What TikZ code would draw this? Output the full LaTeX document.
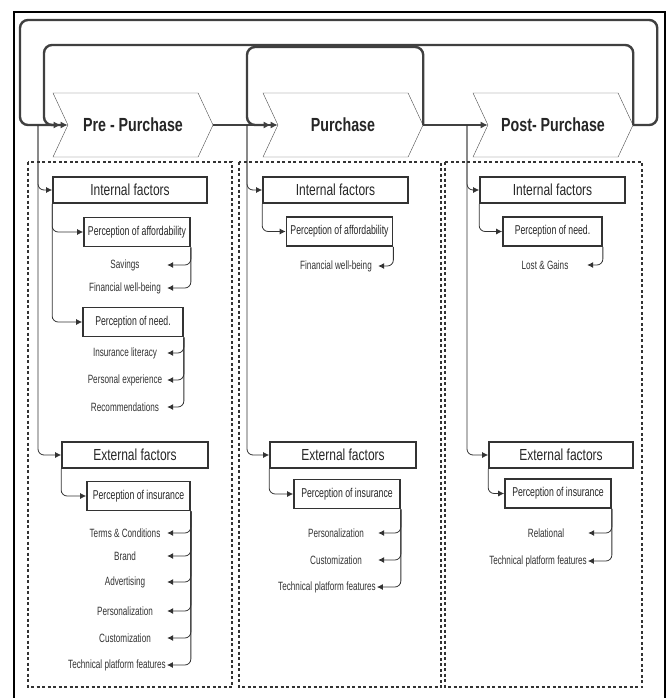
\documentclass[tikz,border=0pt]{standalone}
\usepackage{fontspec}
\setmainfont{Liberation Sans}
\newfontfamily\titlefont[FakeStretch=0.75]{Liberation Sans}
\newfontfamily\narrowfont[FakeStretch=0.68]{Liberation Sans}
\usetikzlibrary{shapes.symbols,arrows.meta}

\begin{document}
\begin{tikzpicture}[x=1pt,y=-1pt]

% whole page, in pixels of the picture
\useasboundingbox (0,0) rectangle (668,698);

% node style definition
\tikzstyle{phase} = [
	draw=black!70, thin, shape=signal, signal to=east, signal from=west,
	signal pointer angle=130, minimum width=160pt, minimum height=64pt,
	font=\titlefont\bfseries\fontsize{19}{22}\selectfont, text=black!85 ];
\tikzstyle{factor} = [
	draw=black!80, line width=1.7pt, rectangle, minimum height=26pt,
	font=\titlefont\fontsize{16}{18}\selectfont, text=black!85 ];
\tikzstyle{percept} = [
	draw=black!80, line width=1.7pt, rectangle, minimum height=29pt, inner sep=1pt,
	font=\narrowfont\fontsize{12.8}{15}\selectfont, text=black!85 ];
\tikzstyle{item} = [
	minimum width=84pt, inner sep=1pt,
	font=\narrowfont\fontsize{12}{14}\selectfont, text=black!80 ];
\tikzstyle{loop} = [
	draw=black!75, line width=2.4pt, rounded corners=8pt,
	-{Latex[length=7pt,width=7pt]} ];
\tikzstyle{feed} = [
	draw=black!80, line width=0.8pt, rounded corners=6pt,
	-{Latex[length=6pt,width=6pt]} ];
\tikzstyle{colbox} = [draw=black!80, line width=1.6pt, dash pattern=on 3pt off 2.5pt];

% frame and the three columns
\draw[line width=1.8pt] (14,698) |- (665,12) -- (665,698);
\draw[colbox] (28,162) rectangle (232,687);
\draw[colbox] (239,162) rectangle (441,687);
\draw[colbox] (445,162) rectangle (642,687);

% the three phases
\node[phase] (pre) at (133,125) {Pre - Purchase};
\node[phase] (pur) at (343,125) {Purchase};
\node[phase] (post) at (553,125) {Post- Purchase};

\draw[loop] (pre.east) -- (pur.west);
\draw[loop] (pur.east) -- (post.west);
\draw[loop,shorten >=7pt] (pur.east) |- (247,47) |- (pur.west);
\draw[loop,shorten >=7pt] (post.east) |- (44,45) |- (pre.west);
\draw[loop] (post.east) -- ++(24,0) |- (20,20) |- (pre.west);

\coordinate (v1) at (38,125);
\coordinate (v2) at (247,125);
\coordinate (v3) at (467,125);

% pre - purchase
\node[factor, minimum width=154pt] (int1) at (130,190) { Internal factors };
\node[percept, minimum width=106pt] (aff1) at (137,232) { Perception of affordability };
\node[item] (sav1) at (125,265) { Savings };
\node[item] (fin1) at (125,288) { Financial well-being };
\node[percept, minimum width=100pt] (need1) at (133,322) { Perception of need. };
\node[item] (lit1) at (125,353) { Insurance literacy };
\node[item] (exp1) at (125,380) { Personal experience };
\node[item] (rec1) at (125,407) { Recommendations };

\node[factor, minimum width=146pt] (ext1) at (135,455) { External factors };
\node[percept, minimum width=103pt] (ins1) at (138.5,496) { Perception of insurance };
\node[item] (ter1) at (125,533) { Terms \& Conditions };
\node[item] (bra1) at (125,556) { Brand };
\node[item] (adv1) at (125,582) { Advertising };
\node[item] (per1) at (125,611) { Personalization };
\node[item] (cus1) at (125,638) { Customization };
\node[item] (tec1) at (117,665) { Technical platform features };

\draw[feed] (v1) |- (int1.west);
\draw[feed] (v1) |- (ext1.west);
\draw[feed] (int1.south west) |- (aff1.west);
\draw[feed] (int1.south west) |- (need1.west);
\draw[feed] (aff1.south east) |- (sav1.east);
\draw[feed] (aff1.south east) |- (fin1.east);
\draw[feed] (need1.south east) |- (lit1.east);
\draw[feed] (need1.south east) |- (exp1.east);
\draw[feed] (need1.south east) |- (rec1.east);
\draw[feed] (ext1.south west) |- (ins1.west);
\draw[feed] (ins1.south east) |- (ter1.east);
\draw[feed] (ins1.south east) |- (bra1.east);
\draw[feed] (ins1.south east) |- (adv1.east);
\draw[feed] (ins1.south east) |- (per1.east);
\draw[feed] (ins1.south east) |- (cus1.east);
\draw[feed] (ins1.south east) |- (tec1.east);

% purchase
\node[factor, minimum width=145pt] (int2) at (335.5,190) { Internal factors };
\node[percept, minimum width=106pt] (aff2) at (339.5,231.5) { Perception of affordability };
\node[item] (fin2) at (336,266) { Financial well-being };

\node[factor, minimum width=146pt] (ext2) at (343,455) { External factors };
\node[percept, minimum width=106pt] (ins2) at (347,494) { Perception of insurance };
\node[item] (per2) at (336,533) { Personalization };
\node[item] (cus2) at (336,560) { Customization };
\node[item] (tec2) at (327,587) { Technical platform features };

\draw[feed] (v2) |- (int2.west);
\draw[feed] (v2) |- (ext2.west);
\draw[feed] (int2.south west) |- (aff2.west);
\draw[feed] (aff2.south east) |- (fin2.east);
\draw[feed] (ext2.south west) |- (ins2.west);
\draw[feed] (ins2.south east) |- (per2.east);
\draw[feed] (ins2.south east) |- (cus2.east);
\draw[feed] (ins2.south east) |- (tec2.east);

% post - purchase
\node[factor, minimum width=145pt] (int3) at (552.5,190) { Internal factors };
\node[percept, minimum width=99pt] (need3) at (552.5,231.5) { Perception of need. };
\node[item] (los3) at (545,265) { Lost \& Gains };

\node[factor, minimum width=144pt] (ext3) at (561,455) { External factors };
\node[percept, minimum width=106pt] (ins3) at (558,493.5) { Perception of insurance };
\node[item] (rel3) at (546,533) { Relational };
\node[item] (tec3) at (538,561) { Technical platform features };

\draw[feed] (v3) |- (int3.west);
\draw[feed] (v3) |- (ext3.west);
\draw[feed] (int3.south west) |- (need3.west);
\draw[feed] (need3.south east) |- (los3.east);
\draw[feed] (ext3.south west) |- (ins3.west);
\draw[feed] (ins3.south east) |- (rel3.east);
\draw[feed] (ins3.south east) |- (tec3.east);

\end{tikzpicture}
\end{document}
